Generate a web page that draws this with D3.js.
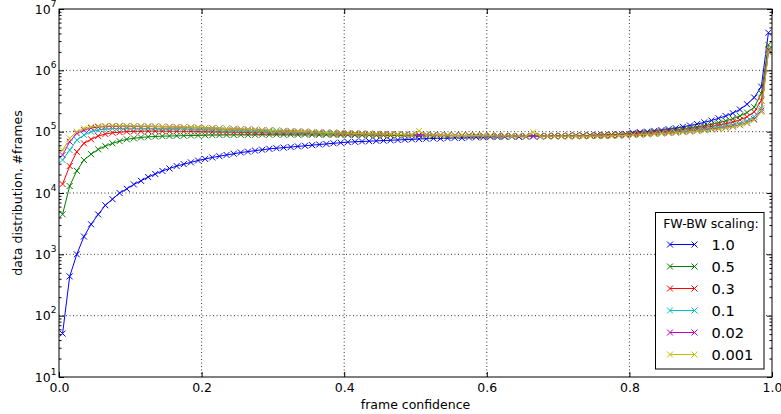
<!DOCTYPE html>
<html>
<head>
<meta charset="utf-8">
<script src="https://cdn.jsdelivr.net/npm/d3@7"></script>
<style>
body { margin: 0; background: #fff; }
text { font-family: "DejaVu Sans", sans-serif; fill: #000; }
</style>
</head>
<body>
<script>
// bin centres of frame confidence
var confidence = [
  0.005,0.015,0.025,0.035,0.045,0.055,0.065,0.075,0.085,0.095,
  0.105,0.115,0.125,0.135,0.145,0.155,0.165,0.175,0.185,0.195,
  0.205,0.215,0.225,0.235,0.245,0.255,0.265,0.275,0.285,0.295,
  0.305,0.315,0.325,0.335,0.345,0.355,0.365,0.375,0.385,0.395,
  0.405,0.415,0.425,0.435,0.445,0.455,0.465,0.475,0.485,0.495,
  0.505,0.515,0.525,0.535,0.545,0.555,0.565,0.575,0.585,0.595,
  0.605,0.615,0.625,0.635,0.645,0.655,0.665,0.675,0.685,0.695,
  0.705,0.715,0.725,0.735,0.745,0.755,0.765,0.775,0.785,0.795,
  0.805,0.815,0.825,0.835,0.845,0.855,0.865,0.875,0.885,0.895,
  0.905,0.915,0.925,0.935,0.945,0.955,0.965,0.975,0.985,0.995
]

var scale10 = [
  51,437,1000,1950,3090,4470,6310,7940,10000,11700,
  13800,15800,18200,20400,22900,25100,27500,29500,31600,33900,
  35900,38000,39800,41700,43600,45700,47300,49000,50700,52500,
  53700,55000,56200,57500,58900,60300,61700,63100,64600,66100,
  67600,68400,69200,70000,70800,71600,72400,73300,74100,75000,
  75900,76700,77600,77000,78500,79400,78800,80400,81300,80500,
  82200,81600,82400,83000,82300,83200,84000,83100,84500,85000,
  84200,85500,86500,85600,87000,88000,87200,89000,90000,92000,
  96000,98000,100000,103000,106000,110000,114000,120000,126000,133000,
  142000,152000,165000,180000,200000,230000,280000,360000,540000,4100000
]

var scale05 = [
  4500,13000,23000,34500,43000,51500,58000,64500,70000,75000,
  78000,80500,82500,83500,84500,85000,85500,86000,86500,87000,
  87500,88000,88000,88500,88500,89000,88500,89000,89500,89000,
  89500,89000,89500,89000,89500,89000,88500,89000,88500,88000,
  88500,88000,87500,88000,87000,87500,86500,87000,86000,86500,
  85500,86500,85500,86000,85000,86000,85000,85500,84500,85500,
  84500,85500,84500,85000,84500,85500,85000,85500,85000,86000,
  85500,86500,86000,87000,87000,88000,88500,89500,90000,91500,
  93000,95000,97000,99000,101000,104000,107000,110000,114000,119000,
  125000,132000,140000,150000,163000,180000,205000,250000,420000,2600000
]

var scale03 = [
  14000,27500,47000,64500,75000,85000,91500,96000,98000,100000,
  101000,101500,102000,102000,102000,101500,101500,101000,101000,100500,
  100000,99500,99000,98500,98000,97500,97000,96500,96000,95500,
  95000,94500,94500,94000,93500,93000,93000,92500,92000,91500,
  91000,90500,90500,90000,89500,89000,89000,88500,88000,88000,
  87500,87000,87500,86500,87000,86000,86500,85500,86000,85000,
  85500,85000,85500,84500,85000,84500,85000,84500,85000,85500,
  85000,86000,85500,86500,86500,87500,87500,88500,89000,90500,
  92000,94000,95000,97000,99000,101000,103000,106000,109000,113000,
  117000,122000,128000,135000,144000,156000,175000,210000,320000,2200000
]

var scale01 = [
  34500,50000,73000,88000,100000,106000,110000,112000,113000,113500,
  113500,113000,113000,112500,112000,111500,111000,110500,110000,109000,
  108000,107000,106500,105500,105000,104000,103000,102000,101000,100000,
  99500,98500,98000,97000,96500,95500,95000,94000,94000,93000,
  92500,92000,91500,91000,90500,90000,89500,89000,88500,88000,
  88000,87000,87500,86500,87000,86000,86500,85500,86000,85000,
  85500,84500,85000,84000,85000,84000,84500,84000,84500,84500,
  84500,85000,84500,85500,85000,86000,86000,87000,87500,89000,
  90000,91000,93000,94000,96000,98000,100000,102000,105000,108000,
  111000,114000,118000,123000,129000,137000,150000,175000,240000,2100000
]

var scale002 = [
  41700,68500,94000,106000,115000,119000,121000,122000,122500,122500,
  122000,121500,121000,120500,120000,119500,119000,118000,117000,116000,
  115000,114000,113000,112000,111000,110000,108500,107500,106000,105000,
  104000,103000,102000,101000,100000,99000,98000,97000,96500,95500,
  95000,94000,93500,92500,92000,91500,90500,90000,89500,89000,
  88500,89500,87500,88000,87000,87500,86500,87000,86000,86500,
  85500,86000,85000,85500,84500,85000,85500,84000,85000,84500,
  84500,84000,84500,84500,85000,85000,85500,86000,86500,88000,
  89000,90000,91000,93000,94000,96000,97000,99000,101000,104000,
  107000,110000,113000,117000,122000,129000,140000,160000,220000,2000000
]

var scale0001 = [
  50000,78000,100000,113000,120000,122500,124000,124500,124500,124000,
  123500,123000,122500,122000,121000,120500,119500,118500,117500,116500,
  115500,114500,113500,112500,111000,110000,109000,107500,106500,105000,
  104000,103000,102000,101000,100000,99000,98000,97000,96000,95500,
  94500,94000,93000,92500,92000,91000,90500,90000,89500,89000,
  103000,88000,88500,87000,88000,86500,87500,86000,87000,85500,
  86500,85000,86000,84500,85500,84000,98000,84000,85000,84000,
  84500,84000,84500,84000,84500,84500,85000,85500,86000,87000,
  88000,89000,90000,92000,93000,95000,96000,98000,100000,102000,
  105000,108000,111000,115000,120000,127000,137000,155000,210000,2000000
]

var seriesLabels = ["1.0", "0.5", "0.3", "0.1", "0.02", "0.001"]
var seriesValues = [scale10, scale05, scale03, scale01, scale002, scale0001]
var xTicks = [0, 0.2, 0.4, 0.6, 0.8, 1.0]
var yDecades = [1e1, 1e2, 1e3, 1e4, 1e5, 1e6, 1e7]

var colors = ["#0000ff", "#008000", "#ff0000", "#00bfbf", "#bf00bf", "#bfbf00"]

var width = 781,
    height = 414,
    plotL = 59, plotR = 772, plotT = 9, plotB = 377

var svg = d3.select("body")
    .append("svg")
    .attr("width", width)
    .attr("height", height)

svg.append("rect").attr("width", width).attr("height", height).attr("fill", "#fff")

var x = d3.scaleLinear().domain([0, 1]).range([plotL, plotR])
var y = d3.scaleLog().domain([1e1, 1e7]).range([plotB, plotT])

// dotted grid
svg.append("g")
    .selectAll("line")
    .data(xTicks.slice(1, -1))
    .enter().append("line")
    .attr("x1", d => x(d)).attr("x2", d => x(d))
    .attr("y1", plotT).attr("y2", plotB)
    .attr("stroke", "#000").attr("stroke-width", 0.8)
    .attr("stroke-dasharray", "1,2.5")

svg.append("g")
    .selectAll("line")
    .data(yDecades.slice(1, -1))
    .enter().append("line")
    .attr("y1", d => y(d)).attr("y2", d => y(d))
    .attr("x1", plotL).attr("x2", plotR)
    .attr("stroke", "#000").attr("stroke-width", 0.8)
    .attr("stroke-dasharray", "1,2.5")

// series
svg.append("clipPath").attr("id", "clip")
    .append("rect").attr("x", plotL).attr("y", plotT)
    .attr("width", plotR - plotL).attr("height", plotB - plotT)

var line = d3.line()
    .x((d, i) => x(confidence[i]))
    .y(d => y(d))

var cross = function(sel, s) {
    sel.attr("d", "M" + (-s) + "," + (-s) + "L" + s + "," + s + "M" + (-s) + "," + s + "L" + s + "," + (-s))
}

var plot = svg.append("g").attr("clip-path", "url(#clip)")

seriesValues.forEach(function(vals, k) {
    var g = plot.append("g")
    g.append("path")
        .datum(vals)
        .attr("d", line)
        .attr("fill", "none")
        .attr("stroke", colors[k])
        .attr("stroke-width", 1)
    g.selectAll("path.m")
        .data(vals)
        .enter().append("path")
        .attr("class", "m")
        .attr("transform", (d, i) => "translate(" + x(confidence[i]) + "," + y(d) + ")")
        .call(cross, 3)
        .attr("stroke", colors[k])
        .attr("stroke-width", 1)
        .attr("fill", "none")
})

// axes, ticks inside on all four sides
var minor = []
for (var e = 1; e < 7; e++) for (var m = 2; m < 10; m++) minor.push(m * Math.pow(10, e))

svg.append("g")
    .attr("transform", "translate(0," + plotB + ")")
    .call(d3.axisBottom(x).tickValues(xTicks).tickSize(-5).tickPadding(6).tickFormat(d3.format(".1f")))
    .call(g => g.select(".domain").remove())
    .selectAll("text").style("font-size", "12.5px").style("font-family", "DejaVu Sans")

svg.append("g")
    .attr("transform", "translate(0," + plotT + ")")
    .call(d3.axisTop(x).tickValues(xTicks).tickSize(-5).tickFormat(""))
    .call(g => g.select(".domain").remove())

svg.append("g")
    .attr("transform", "translate(" + plotL + ",0)")
    .call(d3.axisLeft(y).tickValues(yDecades).tickSize(-5).tickFormat(""))
    .call(g => g.select(".domain").remove())

svg.append("g")
    .attr("transform", "translate(" + plotL + ",0)")
    .call(d3.axisLeft(y).tickValues(minor).tickSize(-2.5).tickFormat(""))
    .call(g => g.select(".domain").remove())

svg.append("g")
    .attr("transform", "translate(" + plotR + ",0)")
    .call(d3.axisRight(y).tickValues(yDecades).tickSize(-5).tickFormat(""))
    .call(g => g.select(".domain").remove())

svg.append("g")
    .attr("transform", "translate(" + plotR + ",0)")
    .call(d3.axisRight(y).tickValues(minor).tickSize(-2.5).tickFormat(""))
    .call(g => g.select(".domain").remove())

// y tick labels as 10 with superscript
var ylab = svg.append("g").selectAll("text")
    .data(yDecades)
    .enter().append("text")
    .attr("x", 56.5)
    .attr("y", d => y(d) + 4.5)
    .attr("text-anchor", "end")
    .style("font-size", "12.5px")
ylab.append("tspan").text("10")
ylab.append("tspan")
    .attr("dy", -7)
    .style("font-size", "9px")
    .text(d => Math.round(Math.log10(d)))

// frame
svg.append("rect")
    .attr("x", plotL).attr("y", plotT)
    .attr("width", plotR - plotL).attr("height", plotB - plotT)
    .attr("fill", "none").attr("stroke", "#000").attr("stroke-width", 1)

// axis labels
svg.append("text")
    .attr("x", (plotL + plotR) / 2)
    .attr("y", 409)
    .attr("text-anchor", "middle")
    .style("font-size", "12.5px")
    .text("frame confidence")

svg.append("text")
    .attr("transform", "translate(22," + ((plotT + plotB) / 2) + ") rotate(-90)")
    .attr("text-anchor", "middle")
    .style("font-size", "12.5px")
    .text("data distribution, #frames")

// legend
var legend = svg.append("g")
legend.append("rect")
    .attr("x", 655.5).attr("y", 212.5)
    .attr("width", 108.5).attr("height", 156.5)
    .attr("fill", "#fff").attr("stroke", "#000").attr("stroke-width", 1)
legend.append("text")
    .attr("x", 711).attr("y", 228)
    .attr("text-anchor", "middle")
    .style("font-size", "12.5px")
    .text("FW-BW scaling:")

var items = legend.selectAll("g.item")
    .data(seriesLabels)
    .enter().append("g")
    .attr("class", "item")
    .attr("transform", (d, i) => "translate(0," + (244.5 + i * 22) + ")")

items.append("line")
    .attr("x1", 670).attr("x2", 694.5)
    .attr("stroke", (d, i) => colors[i]).attr("stroke-width", 1)
items.each(function(d, i) {
    var it = d3.select(this)
    ;[670, 694.5].forEach(function(px) {
        it.append("path")
            .attr("transform", "translate(" + px + ",0)")
            .call(cross, 3)
            .attr("stroke", colors[i]).attr("fill", "none").attr("stroke-width", 1)
    })
})
items.append("text")
    .attr("x", 711.5)
    .attr("y", 5.3)
    .style("font-size", "14.6px")
    .text(d => d)
</script>
</body>
</html>
